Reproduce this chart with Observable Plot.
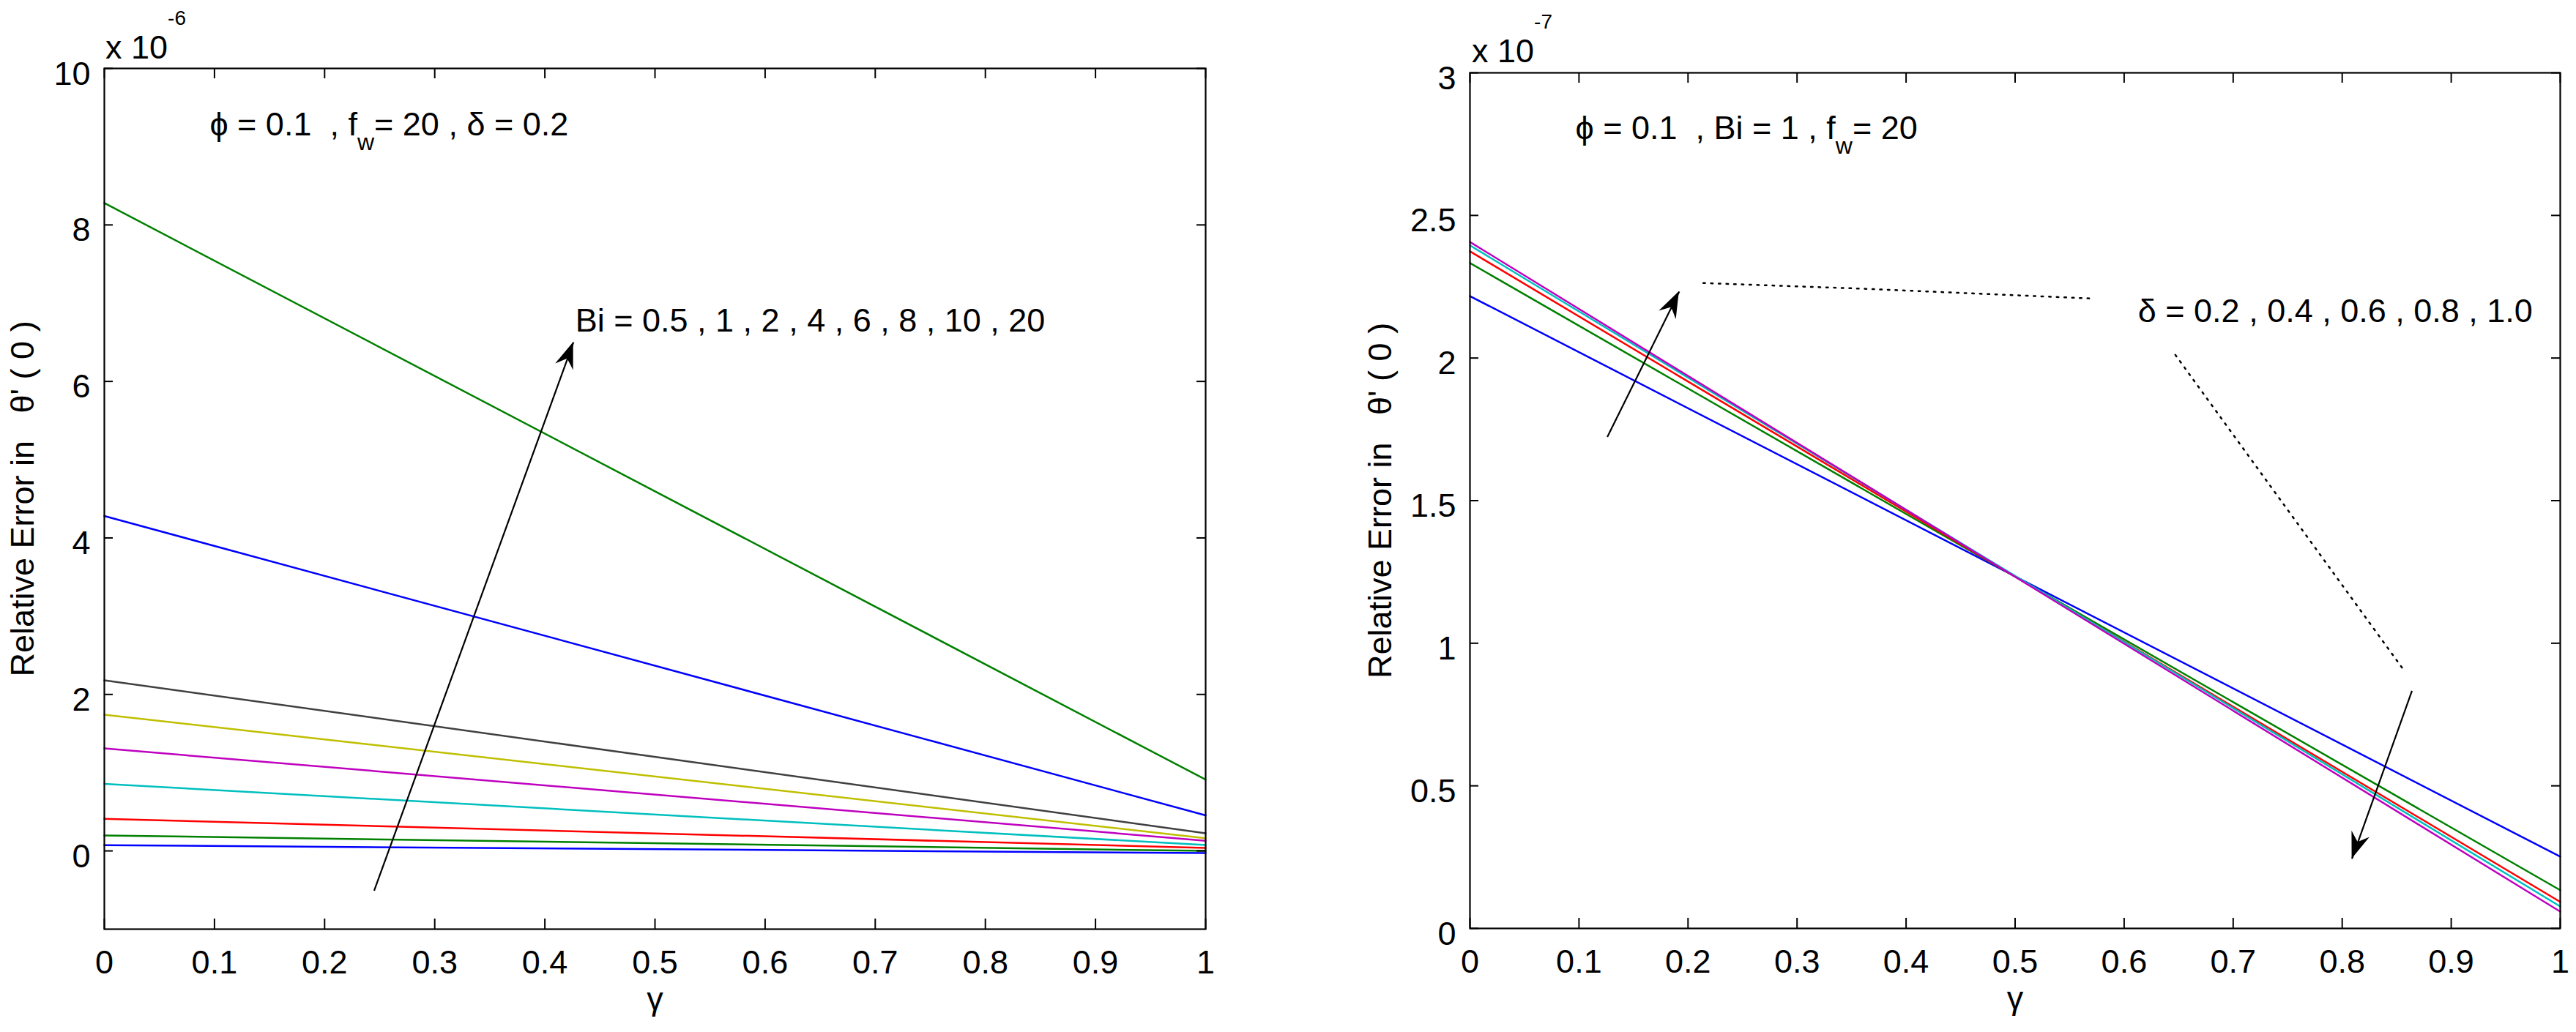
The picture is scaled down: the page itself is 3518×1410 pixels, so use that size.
<!DOCTYPE html>
<html>
<head>
<meta charset="utf-8">
<script src="https://cdn.jsdelivr.net/npm/d3@7"></script>
<script src="https://cdn.jsdelivr.net/npm/@observablehq/plot@0.6"></script>
<style>
html, body { margin: 0; padding: 0; background: #fff; }
#wrap { position: relative; width: 3518px; height: 1410px; overflow: hidden; background: #fff; }
#left { position: absolute; left: 0; top: 0; }
#right { position: absolute; left: 1760px; top: 0; }
svg text { white-space: pre; }
</style>
</head>
<body>
<div id="wrap"><div id="left"></div><div id="right"></div></div>
<script>
// ---------------- data ----------------
const gammaValues = [0, 1];

const xTickValues = [0, 0.1, 0.2, 0.3, 0.4, 0.5, 0.6, 0.7, 0.8, 0.9, 1];
const xTickLabels = ["0", "0.1", "0.2", "0.3", "0.4", "0.5", "0.6", "0.7", "0.8", "0.9", "1"];

const leftYTickValues = [0, 2, 4, 6, 8, 10];
const leftYTickLabels = ["0", "2", "4", "6", "8", "10"];
const rightYTickValues = [0, 0.5, 1, 1.5, 2, 2.5, 3];
const rightYTickLabels = ["0", "0.5", "1", "1.5", "2", "2.5", "3"];

// Left panel (x 10^-6): relative error at gamma = 0 and gamma = 1, in plot order
const leftErrAtGamma0 = [0.073, 0.197, 0.41, 0.857, 1.31, 1.74, 2.18, 4.28, 8.28];
const leftErrAtGamma1 = [-0.028, 0.0, 0.038, 0.075, 0.13, 0.163, 0.225, 0.454, 0.911];

// Right panel (x 10^-7): delta = 0.2, 0.4, 0.6, 0.8, 1.0
const deltaValues = ["0.2", "0.4", "0.6", "0.8", "1.0"];
const rightErrAtGamma0 = [2.217, 2.333, 2.374, 2.395, 2.407];
const rightErrAtGamma1 = [0.252, 0.134, 0.093, 0.077, 0.059];

// annotation arrows (tail -> head), data coordinates
const leftArrows = [{x1: 0.245, y1: -0.507, x2: 0.426, y2: 6.50}];
const rightArrows = [
  {x1: 0.126, y1: 1.723, x2: 0.192, y2: 2.233},
  {x1: 0.864, y1: 0.833, x2: 0.809, y2: 0.244}
];
// dotted leader lines (right panel)
const leaderOneGamma = [0.214, 0.361, 0.568];
const leaderOneErr = [2.263, 2.243, 2.209];
const leaderTwoGamma = [0.647, 0.857];
const leaderTwoErr = [2.011, 0.903];

// ---------------- styles ----------------
const FONT = "'Liberation Sans', Arial, Helvetica, sans-serif";
const FS = 45;
const matlabColors = ["#0000FF", "#008000", "#FF0000", "#00BFBF", "#BF00BF", "#BFBF00", "#404040"];

function rowsFor(v0, v1) {
  return v0.flatMap((a, i) => [
    {line: i, gamma: gammaValues[0], err: a, color: matlabColors[i % matlabColors.length]},
    {line: i, gamma: gammaValues[1], err: v1[i], color: matlabColors[i % matlabColors.length]}
  ]);
}
const leftRows = rowsFor(leftErrAtGamma0, leftErrAtGamma1);
const rightRows = rowsFor(rightErrAtGamma0, rightErrAtGamma1);

const SVGNS = "http://www.w3.org/2000/svg";
function svgEl(name, attrs) {
  const e = document.createElementNS(SVGNS, name);
  for (const k in attrs) e.setAttribute(k, attrs[k]);
  return e;
}

// text with optional subscript parts, positioned in data coordinates
function richText(gx, gy, parts) {
  return (index, scales) => {
    const t = svgEl("text", {x: scales.x(gx), y: scales.y(gy), "font-family": FONT, "font-size": FS, fill: "black", "text-anchor": "start"});
    t.style.whiteSpace = "pre";
    let shift = 0;
    for (const p of parts) {
      const want = p.sub ? 20 : 0;
      const s = svgEl("tspan", {dy: want - shift});
      if (p.sub) s.setAttribute("font-size", 32);
      s.textContent = p.text;
      shift = want;
      t.appendChild(s);
    }
    return t;
  };
}

// "x 10^n" multiplier above the y axis
function exponentLabel(exp, dx, dy) {
  return (index, scales, values, dims) => {
    const t = svgEl("text", {x: dims.marginLeft + dx, y: dims.marginTop + dy, "font-family": FONT, "font-size": FS, fill: "black", "text-anchor": "start"});
    t.style.whiteSpace = "pre";
    const a = svgEl("tspan", {});
    a.textContent = "x 10";
    const b = svgEl("tspan", {dy: -46, "font-size": 28});
    b.textContent = exp;
    t.appendChild(a); t.appendChild(b);
    return t;
  };
}

// filled MATLAB-style arrow heads
function arrowHeads(arrows) {
  return (index, scales) => {
    const g = svgEl("g", {fill: "black", stroke: "none"});
    for (const a of arrows) {
      const x1 = scales.x(a.x1), y1 = scales.y(a.y1), x2 = scales.x(a.x2), y2 = scales.y(a.y2);
      const d = Math.hypot(x2 - x1, y2 - y1);
      const ux = (x2 - x1) / d, uy = (y2 - y1) / d;
      const px = -uy, py = ux;
      const L = 36, W = 13, N = 24;
      const pts = [
        [x2, y2],
        [x2 - L * ux + W * px, y2 - L * uy + W * py],
        [x2 - N * ux, y2 - N * uy],
        [x2 - L * ux - W * px, y2 - L * uy - W * py]
      ];
      g.appendChild(svgEl("path", {d: "M" + pts.map(p => p.join(",")).join("L") + "Z"}));
    }
    return g;
  };
}

function panel(cfg) {
  const frameW = cfg.width - cfg.marginLeft - cfg.marginRight;
  const frameH = cfg.height - cfg.marginTop - cfg.marginBottom;
  const tick = 14;
  return Plot.plot({
    width: cfg.width,
    height: cfg.height,
    marginLeft: cfg.marginLeft,
    marginRight: cfg.marginRight,
    marginTop: cfg.marginTop,
    marginBottom: cfg.marginBottom,
    x: {domain: [0, 1], axis: null},
    y: {domain: cfg.yDomain, axis: null},
    color: {type: "identity"},
    style: {fontFamily: FONT, fontSize: FS + "px", background: "white", overflow: "visible"},
    marks: [
      Plot.line(cfg.rows, {x: "gamma", y: "err", z: "line", stroke: "color", strokeWidth: 2.5}),
      ...cfg.extra,
      // inward ticks on all four sides
      Plot.ruleX(xTickValues, {x: d => d, insetTop: frameH - tick, stroke: "black", strokeWidth: 2}),
      Plot.ruleX(xTickValues, {x: d => d, insetBottom: frameH - tick, stroke: "black", strokeWidth: 2}),
      Plot.ruleY(cfg.yTicks, {y: d => d, insetRight: frameW - 12, stroke: "black", strokeWidth: 2}),
      Plot.ruleY(cfg.yTicks, {y: d => d, insetLeft: frameW - 12, stroke: "black", strokeWidth: 2}),
      Plot.frame({stroke: "black", strokeWidth: 2.2}),
      // tick labels
      Plot.text(xTickValues, {x: d => d, text: (d, i) => xTickLabels[i], frameAnchor: "bottom", lineAnchor: "bottom", dy: 60, fontSize: FS, fill: "black"}),
      Plot.text(cfg.yTicks, {y: d => d, text: (d, i) => cfg.yLabels[i], frameAnchor: "left", textAnchor: "end", lineAnchor: "bottom", dx: -19, dy: 22, fontSize: FS, fill: "black"}),
      // axis titles
      Plot.text(["γ"], {frameAnchor: "bottom", lineAnchor: "bottom", dy: 110, fontSize: FS, fill: "black"}),
      Plot.text(["Relative Error in   θ' ( 0 )"], {frameAnchor: "left", rotate: -90, dx: cfg.yTitleDx, lineAnchor: "middle", textAnchor: "middle", fontSize: FS, fill: "black"}),
      exponentLabel(cfg.exp, cfg.expDx, cfg.expDy)
    ]
  });
}

const leftChart = panel({
  width: 1760, height: 1410,
  marginLeft: 142, marginRight: 114, marginTop: 93, marginBottom: 141,
  yDomain: [-1, 10], yTicks: leftYTickValues, yLabels: leftYTickLabels,
  rows: leftRows, yTitleDx: -111, exp: "-6", expDx: 2, expDy: -13,
  extra: [
    Plot.link(leftArrows, {x1: "x1", y1: "y1", x2: "x2", y2: "y2", stroke: "black", strokeWidth: 2.2}),
    arrowHeads(leftArrows),
    richText(0.096, 9.14, [{text: "ϕ = 0.1  , f"}, {text: "w", sub: true}, {text: "= 20 , δ = 0.2"}]),
    richText(0.428, 6.63, [{text: "Bi = 0.5 , 1 , 2 , 4 , 6 , 8 , 10 , 20"}])
  ]
});

const leaderRows = [
  ...leaderOneGamma.map((g, i) => ({k: 1, gamma: g, err: leaderOneErr[i]})),
  ...leaderTwoGamma.map((g, i) => ({k: 2, gamma: g, err: leaderTwoErr[i]}))
];

const rightChart = panel({
  width: 1758, height: 1410,
  marginLeft: 247, marginRight: 22, marginTop: 99, marginBottom: 142,
  yDomain: [0, 3], yTicks: rightYTickValues, yLabels: rightYTickLabels,
  rows: rightRows, yTitleDx: -122, exp: "-7", expDx: 3, expDy: -14,
  extra: [
    Plot.line(leaderRows, {x: "gamma", y: "err", z: "k", stroke: "black", strokeWidth: 2.5, strokeDasharray: "2.5,8"}),
    Plot.link(rightArrows, {x1: "x1", y1: "y1", x2: "x2", y2: "y2", stroke: "black", strokeWidth: 2.2}),
    arrowHeads(rightArrows),
    richText(0.097, 2.767, [{text: "ϕ = 0.1  , Bi = 1 , f"}, {text: "w", sub: true}, {text: "= 20"}]),
    richText(0.613, 2.124, [{text: "δ = 0.2 , 0.4 , 0.6 , 0.8 , 1.0"}])
  ]
});

document.getElementById("left").appendChild(leftChart);
document.getElementById("right").appendChild(rightChart);
</script>
</body>
</html>
